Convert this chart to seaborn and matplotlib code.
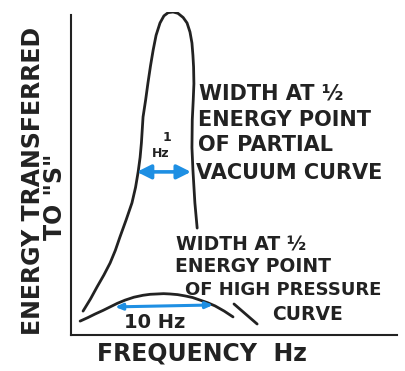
import matplotlib
matplotlib.use("Agg")
import matplotlib.pyplot as plt
import pandas as pd
import seaborn as sns

sns.set_theme(style="white")
plt.rcParams["font.family"] = ["DejaVu Sans"]

# -----------------------------
# Curves (arbitrary units, 0-100)
# -----------------------------

vac_freq = [3.7, 6.0, 8.0, 10.1, 12.0, 13.6, 15.0, 16.9, 18.7, 19.8, 20.6, 21.2, 21.6,
            22.1, 22.9, 23.6, 24.4, 25.2, 26.1, 27.3, 28.5, 29.8, 31.3, 32.8, 34.4,
            35.6, 36.5, 37.1, 37.4, 37.6, 37.7, 37.5, 37.2, 37.1, 37.4, 38.0, 38.7]
vac_energy = [7.4, 11.2, 14.9, 18.6, 22.3, 26.2, 30.3, 35.6, 40.9, 45.7, 50.5, 55.0, 59.5,
              67.5, 72.8, 78.0, 83.4, 88.2, 92.8, 96.6, 98.8, 99.8, 100.0, 99.6, 98.3,
              96.6, 93.8, 90.4, 86.6, 83.0, 77.8, 72.8, 66.6, 58.0, 51.1, 40.9, 33.1]

hp_freq = [2.8, 5.2, 7.4, 9.8, 12.0, 14.2, 16.6, 19.3, 22.1, 24.3, 26.4, 28.4, 30.4,
           32.7, 35.0, 37.3, 39.6, 41.9, 44.2, 47.0, 49.7]
hp_energy = [4.3, 5.4, 6.5, 7.6, 8.7, 9.8, 10.8, 11.7, 12.3, 12.6, 12.7, 12.8, 12.7,
             12.5, 12.1, 11.6, 10.8, 10.0, 9.0, 7.4, 5.6]

pointer_freq = [50.0, 57.1]
pointer_energy = [9.6, 3.4]

# half-energy widths
vac_width = [20.2, 36.8]
vac_half = 50.5
hp_width = [13.5, 43.6]
hp_half = [8.7, 9.3]

ink = "#222222"
blue = "#1e8fe3"

vac = pd.DataFrame({"freq": vac_freq, "energy": vac_energy})
hp = pd.DataFrame({"freq": hp_freq, "energy": hp_energy})
ptr = pd.DataFrame({"freq": pointer_freq, "energy": pointer_energy})

fig = plt.figure(figsize=(4.06, 3.71), dpi=100)
ax = fig.add_axes([71 / 406, 36 / 371, 326 / 406, 323 / 371])

for df in (vac, hp, ptr):
    sns.lineplot(data=df, x="freq", y="energy", sort=False, estimator=None,
                 color=ink, lw=2.0, ax=ax, solid_joinstyle="round",
                 solid_capstyle="round")

# blue width arrows
ax.annotate("", xy=(vac_width[0], vac_half), xytext=(vac_width[1], vac_half),
            arrowprops=dict(arrowstyle="<|-|>,head_length=0.7,head_width=0.35",
                            color=blue, lw=2.6, shrinkA=0, shrinkB=0))
ax.annotate("", xy=(hp_width[0], hp_half[0]), xytext=(hp_width[1], hp_half[1]),
            arrowprops=dict(arrowstyle="<|-|>,head_length=0.35,head_width=0.15",
                            color=blue, lw=2.2, shrinkA=0, shrinkB=0))

ax.set_xlim(0, 100)
ax.set_ylim(0, 100)
ax.set_xticks([])
ax.set_yticks([])
ax.set_xlabel("")
ax.set_ylabel("")
ax.spines[["top", "right"]].set_visible(False)
for s in ("left", "bottom"):
    ax.spines[s].set_color(ink)
    ax.spines[s].set_linewidth(1.5)
ax.spines["left"].set_bounds(0, 99)

tkw = dict(color=ink, fontweight="bold", va="center", ha="left")

# partial vacuum annotation
ax.text(39.3, 74.9, "WIDTH AT ½", fontsize=15, **tkw)
ax.text(39.0, 66.6, "ENERGY POINT", fontsize=15, **tkw)
ax.text(39.0, 58.8, "OF PARTIAL", fontsize=15, **tkw)
ax.text(38.4, 50.2, "VACUUM CURVE", fontsize=15, **tkw)
ax.text(29.4, 61.3, "1", fontsize=9, color=ink, fontweight="bold", ha="center", va="center")
ax.text(27.6, 56.3, "Hz", fontsize=9, color=ink, fontweight="bold", ha="center", va="center")

# high pressure annotation
ax.text(32.2, 27.9, "WIDTH AT ½", fontsize=13.5, **tkw)
ax.text(31.9, 21.1, "ENERGY POINT", fontsize=13.5, **tkw)
ax.text(35.0, 13.9, "OF HIGH PRESSURE", fontsize=13, **tkw)
ax.text(61.7, 6.2, "CURVE", fontsize=13.5, **tkw)
ax.text(25.8, 4.0, "10 Hz", fontsize=14, color=ink, fontweight="bold", ha="center", va="center")

# axis titles
fig.text(0.081, 0.512, "ENERGY TRANSFERRED", rotation=90, fontsize=17,
         color=ink, fontweight="bold", ha="center", va="center")
fig.text(0.135, 0.469, 'TO "S"', rotation=90, fontsize=17,
         color=ink, fontweight="bold", ha="center", va="center")
fig.text(0.498, 0.0485, "FREQUENCY  Hz", fontsize=17,
         color=ink, fontweight="bold", ha="center", va="center")

fig.savefig("out.png", dpi=100, facecolor="white")
